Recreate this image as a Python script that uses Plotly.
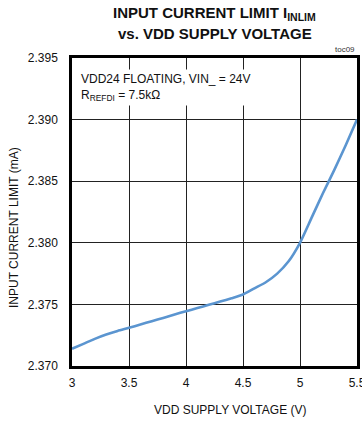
import plotly.graph_objects as go

# VDD supply voltage (V) and measured input current limit (mA)
vdd_v = [3.0, 3.1, 3.2, 3.3, 3.4, 3.5, 3.6, 3.7, 3.8, 3.9, 4.0, 4.1, 4.2,
         4.3, 4.4, 4.5, 4.6, 4.7, 4.8, 4.9, 5.0, 5.1, 5.2, 5.3, 5.4, 5.5]
i_inlim_ma = [2.37140, 2.37180, 2.37220, 2.37255, 2.37285, 2.37310, 2.37337,
              2.37364, 2.37390, 2.37418, 2.37445, 2.37470, 2.37497, 2.37523,
              2.37550, 2.37580, 2.37630, 2.37680, 2.37750, 2.37850, 2.38000,
              2.38200, 2.38400, 2.38590, 2.38790, 2.39000]

x_ticks = [3, 3.5, 4, 4.5, 5, 5.5]
x_tick_text = ["3", "3.5", "4", "4.5", "5", "5.5"]
y_ticks = [2.370, 2.375, 2.380, 2.385, 2.390, 2.395]

FONT = "Liberation Sans Narrow, Arial Narrow, Liberation Sans, Arial, sans-serif"

fig = go.Figure()
fig.add_trace(go.Scatter(
    x=vdd_v, y=i_inlim_ma, mode="lines",
    line=dict(color="#5b95d0", width=2.6, shape="spline", smoothing=0.6),
    showlegend=False, hoverinfo="skip",
))

axis_common = dict(
    showline=True, linecolor="black", linewidth=2.5, mirror=True,
    showgrid=True, gridcolor="#222222", gridwidth=1,
    zeroline=False, ticks="", ticklabeloverflow="allow", automargin=False,
    tickfont=dict(family=FONT, size=12, color="#111"),
)

fig.update_layout(
    width=362, height=423,
    margin=dict(l=72, r=5, t=58, b=57),
    paper_bgcolor="white", plot_bgcolor="white",
    font=dict(family=FONT, color="#111"),
    xaxis=dict(
        range=[3, 5.5], tickvals=x_ticks, ticktext=x_tick_text,
        ticklabelstandoff=4,
        **axis_common,
    ),
    yaxis=dict(
        range=[2.370, 2.395], tickvals=y_ticks, tickformat=".3f",
        ticklabelstandoff=9,
        **axis_common,
    ),
    annotations=[
        dict(text="<b>INPUT CURRENT LIMIT I<sub>INLIM</sub></b>", xref="paper", yref="paper",
             x=0.5, y=1, yshift=45, xanchor="center", yanchor="middle", showarrow=False,
             font=dict(family=FONT, size=15, color="#111")),
        dict(text="<b>vs. VDD SUPPLY VOLTAGE</b>", xref="paper", yref="paper",
             x=0.5, y=1, yshift=25, xanchor="center", yanchor="middle", showarrow=False,
             font=dict(family=FONT, size=15, color="#111")),
        dict(text="toc09", xref="paper", yref="paper", x=1, y=1, yshift=2,
             xanchor="right", yanchor="bottom", showarrow=False,
             font=dict(family=FONT, size=8, color="#333")),
        dict(text="VDD24 FLOATING, VIN_ = 24V<br>R<sub>REFDI</sub> = 7.5kΩ",
             xref="paper", yref="paper", x=0, y=1, xshift=6, yshift=-11,
             xanchor="left", yanchor="top", align="left", showarrow=False,
             bgcolor="white", borderpad=2,
             font=dict(family=FONT, size=12, color="#111")),
        # axis titles
        dict(text="VDD SUPPLY VOLTAGE (V)", xref="paper", yref="paper",
             x=0.554, y=0, yshift=-44, xanchor="center", yanchor="middle",
             showarrow=False, font=dict(family=FONT, size=12, color="#111")),
        dict(text="INPUT CURRENT LIMIT (mA)", xref="paper", yref="paper",
             x=0, xshift=-58, y=0.448, xanchor="center", yanchor="middle",
             textangle=-90, showarrow=False,
             font=dict(family=FONT, size=12, color="#111")),
    ],
)

fig.write_html("out.html")
